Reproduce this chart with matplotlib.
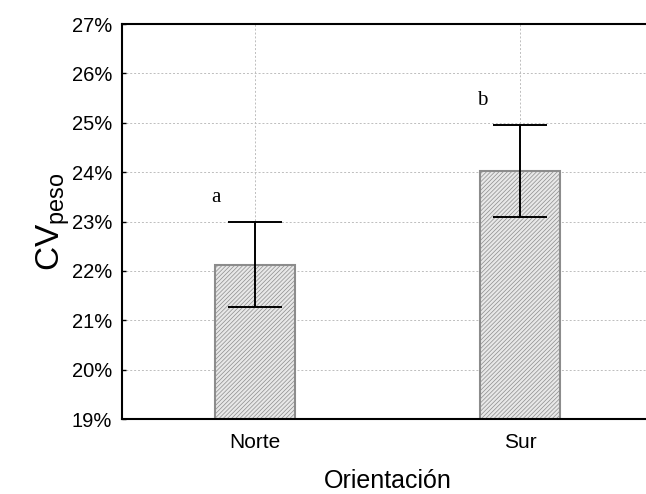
import matplotlib
matplotlib.use("Agg")
import matplotlib.pyplot as plt
from matplotlib.ticker import FuncFormatter

categories = ["Norte", "Sur"]
cv_mean = [22.12, 24.03]
cv_err = [0.86, 0.93]
letters = ["a", "b"]

plt.rcParams["font.family"] = ["Liberation Sans", "DejaVu Sans"]
plt.rcParams["mathtext.default"] = "regular"
plt.rcParams["hatch.color"] = "#d4d4d4"
plt.rcParams["hatch.linewidth"] = 0.5

fig = plt.figure(figsize=(6.46, 4.94), dpi=100)
ax = fig.add_axes([0.1889, 0.1518, 0.822, 0.7996])

x = list(range(1, len(categories) + 1))
ax.bar(x, [m - 19 for m in cv_mean], bottom=19, width=0.3,
       facecolor="#e8e8e8", edgecolor="#8c8c8c", linewidth=1.5,
       hatch="////////", zorder=2)
ax.errorbar(x, cv_mean, yerr=cv_err, fmt="none", ecolor="black",
            elinewidth=1.4, capsize=19.5, capthick=1.4, zorder=3)

for xi, m, e, lab in zip(x, cv_mean, cv_err, letters):
    ax.text(xi - 0.145, m + e + 0.5, lab, family="Liberation Serif",
            fontsize=15, ha="center", va="center")

ax.set_xlim(0.5, 2.5)
ax.set_ylim(19, 27)
ax.set_yticks(range(19, 28))
ax.yaxis.set_major_formatter(FuncFormatter(lambda v, p: f"{v:.0f}%"))
ax.set_xticks(x)
ax.set_xticklabels(categories)

ax.grid(True, color="#bdbdbd", linestyle=(0, (2, 2)), linewidth=0.7, zorder=0)
ax.set_axisbelow(True)

for s in ax.spines.values():
    s.set_linewidth(1.5)
ax.tick_params(direction="in", length=3, width=1)
ax.tick_params(axis="y", labelsize=14.5, pad=7)
ax.tick_params(axis="x", labelsize=15, pad=10)

ax.set_ylabel("CV$_{peso}$", fontsize=24, labelpad=0)
ax.set_xlabel("Orientación", fontsize=18, labelpad=12)

fig.savefig("out.png", dpi=100)
